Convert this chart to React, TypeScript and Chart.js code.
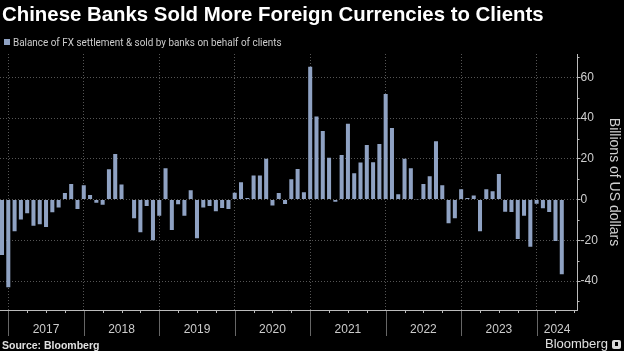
import React, { useEffect, useRef } from 'react';
import { Chart, registerables } from 'chart.js';

Chart.register(...registerables);

const TITLE = 'Chinese Banks Sold More Foreign Currencies to Clients';
const SUBTITLE = 'Balance of FX settlement & sold by banks on behalf of clients';
const Y_TITLE = 'Billions of US dollars';
const SOURCE = 'Source: Bloomberg';
const BRAND = 'Bloomberg';

// Series starts Nov 2016, one value per month (billions of US dollars)
const FIRST_YEAR = 2016;
const FIRST_MONTH = 11;
const VALUES = [
  -27.2, -43, -15.5, -9.8, -6.7, -12.8, -12.1, -13.4, -6.2, -3.9, 3.3, 7.7,
  -4.6, 7.0, 2.3, -1.5, -2.5, 14.9, 22.4, 7.4, 0.3, -9.2, -16, -3.1,
  -20, -7.9, 15.4, -14.9, -2.3, -7.9, 4.6, -19, -3.9, -3.1, -5.7, -4.1,
  -4.6, 3.4, 8.5, 0.8, 11.8, 11.8, 20.1, -2.9, 3.3, -2.1, 10, 15,
  3.6, 65.3, 40.8, 33.7, 20.5, -1, 21.9, 37.3, 12.9, 18.2, 26.8, 18.3,
  27.3, 51.9, 35.2, 2.6, 20.1, 15.4, 0.2, 7.7, 11.5, 28.6, 7, -11.6,
  -9.2, 5.1, 0.8, 2, -15.5, 5.1, 4.1, 12.6, -5.9, -6.1, -19.3, -7.9,
  -23.1, -2, -4.3, -6.1, -20.3, -36.7,
];
const YEAR_LABELS = ['2017', '2018', '2019', '2020', '2021', '2022', '2023', '2024'];
const Y_TICKS = [-40, -20, 0, 20, 40, 60];
const Y_MINOR = [-50, -30, -10, 10, 30, 50, 70];
const Y_MIN = -54.2;
const Y_MAX = 71.5;
// x axis is measured in months since the start of 2016 (month-end positions)
const X_MIN = 10.68;
const X_MAX = 102.5;

const BAR_COLOR = '#8fa2c3';
const FONT = '"Liberation Sans", Arial, sans-serif';

const monthPos = (i: number) => (FIRST_YEAR - 2016) * 12 + FIRST_MONTH + i;
const yearPos = (y: string) => (Number(y) - 2016) * 12;

const axisPlugin = {
  id: 'bbgAxes',
  afterDraw(chart: any) {
    const { ctx, chartArea: a, scales } = chart;
    const xs = scales.x;
    const ys = scales.y;
    const line = (x1: number, y1: number, x2: number, y2: number) => {
      ctx.beginPath();
      ctx.moveTo(x1, y1);
      ctx.lineTo(x2, y2);
      ctx.stroke();
    };
    ctx.save();
    ctx.lineWidth = 1;
    ctx.setLineDash([]);
    // year separators below the axis
    ctx.strokeStyle = '#666';
    YEAR_LABELS.forEach((yl) => {
      const px = Math.round(xs.getPixelForValue(yearPos(yl))) + 0.5;
      line(px, a.bottom, px, a.bottom + 26);
    });
    // quarterly ticks
    ctx.strokeStyle = '#bbb';
    for (let m = Math.ceil(X_MIN / 3) * 3; m <= X_MAX; m += 3) {
      if (m % 12 === 0) continue;
      const px = Math.round(xs.getPixelForValue(m)) + 0.5;
      line(px, a.bottom, px, a.bottom + 3);
    }
    // x axis line
    line(a.left, Math.round(a.bottom) + 0.5, a.right, Math.round(a.bottom) + 0.5);
    // minor y ticks
    Y_MINOR.forEach((v) => {
      const py = Math.round(ys.getPixelForValue(v)) + 0.5;
      line(a.right, py, a.right + 2, py);
    });
    // year labels
    ctx.fillStyle = '#cccccc';
    ctx.font = '12px ' + FONT;
    ctx.textAlign = 'center';
    ctx.textBaseline = 'middle';
    YEAR_LABELS.forEach((yl) => {
      const s = yearPos(yl);
      const e = Math.min(s + 12, X_MAX);
      const cx = (xs.getPixelForValue(s) + xs.getPixelForValue(e)) / 2;
      ctx.fillText(yl, cx, 330);
    });
    ctx.restore();
  },
};

export default function App() {
  const ref = useRef<HTMLCanvasElement | null>(null);

  useEffect(() => {
    document.body.style.margin = '0';
    document.body.style.background = '#000';
    const canvas = ref.current;
    if (!canvas) return;
    const chart = new Chart(canvas, {
      type: 'bar',
      data: {
        datasets: [
          {
            label: SUBTITLE,
            data: VALUES.map((v, i) => ({ x: monthPos(i), y: v })),
            backgroundColor: BAR_COLOR,
            borderWidth: 0,
            categoryPercentage: 1,
            barPercentage: 0.64,
          },
        ],
      },
      options: {
        animation: false,
        responsive: false,
        devicePixelRatio: 1,
        layout: { padding: { top: 54, bottom: 41, left: 0, right: 0 } },
        plugins: {
          legend: { display: false },
          tooltip: { enabled: false },
          title: { display: false },
        },
        scales: {
          x: {
            type: 'linear',
            min: X_MIN,
            max: X_MAX,
            offset: false,
            afterBuildTicks: (s: any) => {
              s.ticks = YEAR_LABELS.map((y) => ({ value: yearPos(y) }));
            },
            ticks: { display: false },
            grid: { color: '#555', drawTicks: false, lineWidth: 1, offset: false },
            border: { display: false, dash: [1, 2] },
          },
          y: {
            position: 'right',
            min: Y_MIN,
            max: Y_MAX,
            afterBuildTicks: (s: any) => {
              s.ticks = Y_TICKS.map((v) => ({ value: v }));
            },
            afterFit: (s: any) => {
              s.width = 46.5;
            },
            grid: {
              color: '#555',
              lineWidth: 1,
              drawTicks: true,
              tickLength: 3,
              tickColor: '#bbb',
              tickBorderDash: [],
            },
            border: { display: true, color: '#bbb', width: 1, dash: [1, 2] },
            ticks: {
              color: '#d0d0d0',
              font: { size: 12, family: FONT },
              padding: 0,
              callback: (v: any) => String(v),
            },
            title: {
              display: true,
              text: Y_TITLE,
              color: '#d0d0d0',
              font: { size: 14, family: FONT },
              padding: { top: 2, bottom: 0 },
            },
          },
        },
      },
      plugins: [axisPlugin],
    } as any);
    return () => chart.destroy();
  }, []);

  return (
    <div
      style={{
        position: 'fixed',
        left: 0,
        top: 0,
        width: 624,
        height: 351,
        background: '#000',
        overflow: 'hidden',
        fontFamily: FONT,
      }}
    >
      <canvas ref={ref} width={624} height={351} style={{ position: 'absolute', left: 0, top: 0, width: 624, height: 351 }} />
      <div
        style={{
          position: 'absolute',
          left: 2,
          top: 4,
          fontSize: 20.4,
          lineHeight: '20px',
          fontWeight: 'bold',
          color: '#fff',
          whiteSpace: 'nowrap',
        }}
      >
        {TITLE}
      </div>
      <div style={{ position: 'absolute', left: 4, top: 39, width: 6, height: 6, background: BAR_COLOR }} />
      <div
        style={{
          position: 'absolute',
          left: 13,
          top: 35.5,
          fontSize: 11,
          lineHeight: '13px',
          fontFamily: 'Roboto, sans-serif',
          color: '#cccccc',
          whiteSpace: 'nowrap',
          transform: 'scaleX(0.9)',
          transformOrigin: 'left center',
        }}
      >
        {SUBTITLE}
      </div>
      <div
        style={{
          position: 'absolute',
          left: 2,
          top: 339,
          fontSize: 10.5,
          lineHeight: '12px',
          fontWeight: 'bold',
          color: '#e0e0e0',
          whiteSpace: 'nowrap',
        }}
      >
        {SOURCE}
      </div>
      <div
        style={{
          position: 'absolute',
          left: 545,
          top: 337,
          fontSize: 13,
          lineHeight: '14px',
          color: '#e0e0e0',
          whiteSpace: 'nowrap',
        }}
      >
        {BRAND}
      </div>
      <div
        style={{
          position: 'absolute',
          left: 612,
          top: 340,
          width: 9,
          height: 9,
          borderRadius: 2,
          background: '#d8d8d8',
        }}
      >
        <div style={{ position: 'absolute', left: 3, top: 2, width: 3, height: 4, background: '#000' }} />
      </div>
    </div>
  );
}
